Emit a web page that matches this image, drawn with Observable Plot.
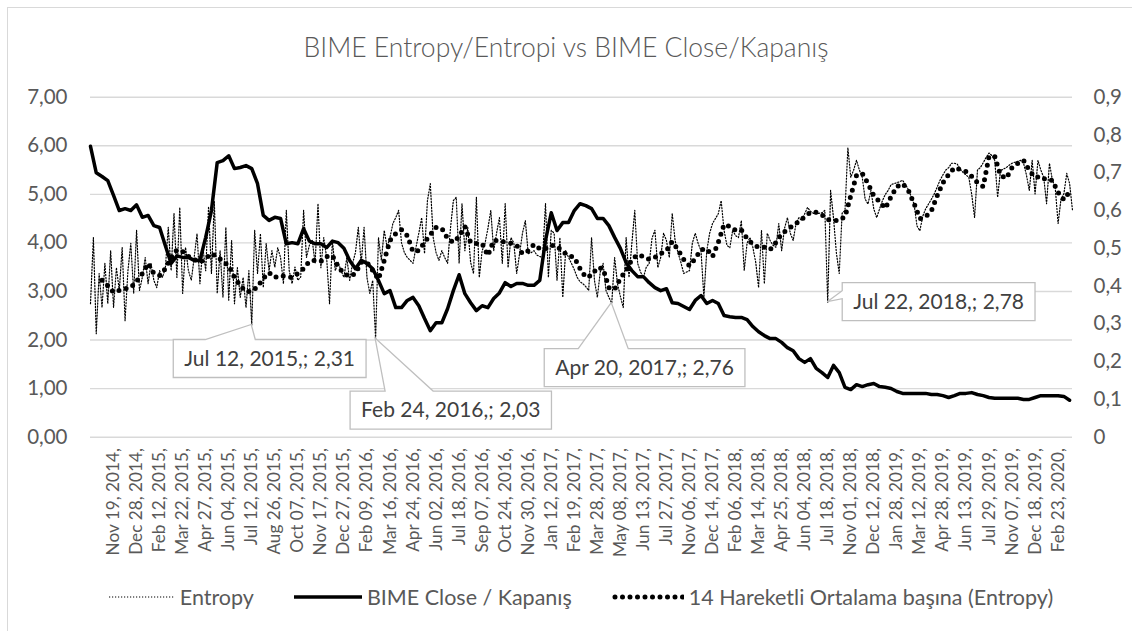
<!DOCTYPE html>
<html><head><meta charset="utf-8">
<script src="https://cdn.jsdelivr.net/npm/d3@7"></script>
<script src="https://cdn.jsdelivr.net/npm/@observablehq/plot@0.6"></script>
<style>
body{margin:0;background:#fff;font-family:Lato,"Open Sans",sans-serif;}
#wrap{position:relative;width:1132px;height:631px;overflow:hidden;background:#fff;}
#frame{position:absolute;left:7px;top:7px;width:1140px;height:640px;border:1px solid #d9d9d9;box-sizing:border-box;pointer-events:none;}
#title{position:relative;height:80px;box-sizing:border-box;padding-top:31px;line-height:32px;text-align:center;font-size:26.5px;font-weight:300;color:#595959;}
#chart{position:relative;height:490px;}
#legend{position:relative;height:61px;display:flex;justify-content:center;align-items:center;gap:40px;padding-left:30px;padding-bottom:8px;box-sizing:border-box;font-size:21.5px;color:#595959;}
.item{display:flex;align-items:center;white-space:nowrap;}
.item svg{margin-right:5px;}
</style></head>
<body>
<div id="wrap">
<div id="frame"></div>
<div id="title">BIME Entropy/Entropi vs BIME Close/Kapanış</div>
<div id="chart"></div>
<div id="legend"></div>
</div>
<script>
// ---------- data ----------
const leftTicks = [0,1,2,3,4,5,6,7];
const rightTicks = [0,0.1,0.2,0.3,0.4,0.5,0.6,0.7,0.8,0.9];
const tickLabels = ["Nov 19, 2014,","Dec 28, 2014,","Feb 12, 2015,","Mar 22, 2015,","Apr 27, 2015,","Jun 04, 2015,","Jul 12, 2015,","Aug 26, 2015,","Oct 07, 2015,","Nov 17, 2015,","Dec 27, 2015,","Feb 09, 2016,","Mar 16, 2016,","Apr 24, 2016,","Jun 02, 2016,","Jul 18, 2016,","Sep 07, 2016,","Oct 24, 2016,","Nov 30, 2016,","Jan 12, 2017,","Feb 19, 2017,","Mar 28, 2017,","May 08, 2017,","Jun 13, 2017,","Jul 27, 2017,","Nov 06, 2017,","Dec 14, 2017,","Feb 06, 2018,","Mar 14, 2018,","Apr 25, 2018,","Jun 04, 2018,","Jul 18, 2018,","Nov 01, 2018,","Dec 12, 2018,","Jan 28, 2019,","Mar 12, 2019,","Apr 28, 2019,","Jun 13, 2019,","Jul 29, 2019,","Nov 07, 2019,","Dec 18, 2019,","Feb 23, 2020,"];
const labelStart = 8, labelEvery = 8;   // category index of first label, interval between labels
// Entropy (left axis), one value per category
const entropy = [
2.75,4.11,2.13,3.37,2.67,3.58,2.75,3.84,2.67,3.49,
3.02,3.91,2.40,3.43,3.99,2.96,4.26,3.02,3.29,3.70,
3.16,3.58,3.23,3.08,3.43,3.29,3.49,4.32,3.43,4.61,
3.29,4.73,2.96,3.91,3.43,3.23,3.70,4.19,3.16,3.91,
3.43,4.75,3.37,4.85,2.96,3.84,2.88,4.32,2.82,4.05,
2.75,3.49,2.88,3.29,2.67,3.43,2.31,4.26,3.37,4.19,
3.08,3.99,3.43,3.84,3.50,3.90,3.70,3.16,4.67,3.43,
3.16,3.50,3.23,3.30,4.67,3.70,3.95,4.05,3.58,4.81,
3.49,4.11,3.70,2.75,4.05,3.43,3.60,3.43,3.29,3.70,
3.23,3.58,3.80,4.32,3.58,4.32,3.29,2.96,3.23,2.03,
4.11,3.64,4.26,3.91,4.11,4.40,4.52,4.67,4.00,3.80,
3.70,3.64,3.58,3.90,4.20,4.52,3.78,4.87,5.22,4.11,
3.80,3.64,3.84,3.70,3.58,4.30,4.87,4.94,3.58,4.81,
3.84,4.32,3.60,3.37,4.94,3.29,3.84,3.99,4.30,4.67,
3.84,4.20,4.52,3.58,4.81,3.49,4.11,4.00,3.37,3.78,
4.20,4.46,3.78,3.80,3.84,3.75,3.72,3.70,4.81,3.29,
4.26,4.20,3.23,4.11,2.88,3.84,3.70,3.58,3.45,3.29,
3.20,3.16,3.10,3.02,4.11,3.23,2.88,3.40,3.58,3.02,
2.88,2.76,3.70,3.16,2.90,2.67,4.11,3.29,4.00,4.67,
3.58,3.40,3.29,3.50,3.58,4.10,4.26,3.49,3.70,4.20,
4.05,3.70,4.61,4.05,3.80,3.60,3.37,3.40,3.43,4.00,
4.20,3.99,3.84,2.88,3.84,4.20,4.40,4.50,4.60,4.87,
4.26,3.95,3.90,4.26,4.15,4.11,4.46,3.43,4.00,4.11,
3.91,3.60,3.08,4.26,3.16,4.20,4.05,3.95,3.91,4.40,
3.84,4.30,4.52,4.20,4.05,4.40,4.52,4.46,4.60,4.73,
4.65,4.61,4.60,4.61,4.62,4.67,2.78,5.08,4.52,3.80,
3.37,4.61,4.67,5.96,5.35,5.50,5.70,5.50,5.35,4.90,
4.80,5.08,4.70,4.52,4.70,4.87,5.00,5.08,5.20,5.22,
5.24,5.26,5.29,5.20,5.10,4.95,4.80,4.35,4.25,4.55,
4.70,4.80,4.90,5.01,5.15,5.29,5.40,5.50,5.55,5.64,
5.64,5.62,5.52,5.45,5.40,5.35,5.00,4.52,5.50,5.55,
5.65,5.76,5.85,5.80,5.70,4.94,5.49,5.52,5.55,5.60,
5.64,5.66,5.68,5.70,5.64,5.40,5.08,5.70,5.01,5.70,
5.50,5.35,4.81,5.64,5.30,5.14,4.40,4.90,5.01,5.43,
5.22,4.67];
const coarseStep = 2; // close and moving average: one value every 2 categories
// BIME Close / Kapanış (right axis)
const close = [
0.770,0.700,0.690,0.679,0.640,0.600,0.605,0.600,0.615,0.582,
0.587,0.560,0.555,0.507,0.460,0.480,0.476,0.476,0.468,0.468,
0.529,0.600,0.727,0.732,0.745,0.711,0.714,0.719,0.711,0.671,
0.587,0.574,0.582,0.579,0.512,0.515,0.512,0.552,0.519,0.512,
0.512,0.502,0.519,0.515,0.500,0.468,0.446,0.468,0.460,0.446,
0.415,0.380,0.388,0.343,0.343,0.362,0.370,0.348,0.314,0.282,
0.303,0.303,0.340,0.388,0.430,0.380,0.356,0.335,0.348,0.343,
0.367,0.382,0.409,0.399,0.407,0.407,0.402,0.402,0.415,0.521,
0.594,0.547,0.568,0.568,0.600,0.618,0.613,0.605,0.579,0.579,
0.560,0.529,0.500,0.462,0.441,0.425,0.425,0.409,0.396,0.388,
0.393,0.356,0.354,0.346,0.338,0.362,0.375,0.354,0.362,0.354,
0.322,0.319,0.317,0.317,0.311,0.293,0.279,0.269,0.261,0.261,
0.251,0.237,0.229,0.208,0.198,0.208,0.182,0.171,0.158,0.190,
0.171,0.132,0.126,0.139,0.134,0.139,0.142,0.134,0.132,0.129,
0.121,0.116,0.116,0.116,0.116,0.116,0.113,0.113,0.110,0.105,
0.110,0.116,0.116,0.118,0.113,0.110,0.105,0.103,0.103,0.103,
0.103,0.103,0.100,0.100,0.105,0.110,0.110,0.110,0.110,0.108,
0.098];
// 14 Hareketli Ortalama (Entropy) (left axis)
const movingAvg = [
null,null,
3.23,3.12,2.98,3.02,3.06,3.08,3.21,3.37,3.58,3.37,
3.33,3.47,3.70,3.86,3.82,3.72,3.66,3.60,3.68,3.78,
3.72,3.62,3.53,3.29,3.12,3.00,3.00,3.10,3.27,3.39,
3.29,3.33,3.31,3.29,3.37,3.47,3.62,3.64,3.62,3.72,
3.74,3.51,3.37,3.31,3.37,3.60,3.60,3.43,3.25,3.64,
4.05,4.19,4.27,4.15,3.82,3.84,4.01,4.17,4.32,4.30,
4.09,4.01,4.13,4.34,4.01,3.99,3.99,3.74,4.05,4.05,
4.01,3.99,3.95,3.78,3.84,3.97,3.88,3.88,3.95,3.93,
3.82,3.74,3.70,3.47,3.29,3.33,3.49,3.47,3.08,3.04,
3.27,3.43,3.66,3.76,3.72,3.66,3.70,3.78,3.84,4.03,
3.86,3.66,3.53,3.68,3.86,3.88,3.72,4.01,4.38,4.34,
4.26,4.27,4.09,3.97,3.91,3.91,3.86,4.01,4.19,4.27,
4.36,4.44,4.54,4.63,4.63,4.58,4.48,4.46,4.46,4.54,
4.97,5.39,5.43,5.22,4.97,4.85,4.71,4.95,5.16,5.22,
5.08,4.81,4.50,4.54,4.66,4.97,5.24,5.41,5.55,5.51,
5.47,5.37,5.24,5.16,5.78,5.78,5.39,5.33,5.55,5.64,
5.70,5.49,5.35,5.37,5.29,5.29,5.04,4.89,5.06];
// data labels on Entropy
const annIndex = [56, 99, 181, 256];
const annDate = ["Jul 12, 2015", "Feb 24, 2016", "Apr 20, 2017", "Jul 22, 2018"];
const annValue = [2.31, 2.03, 2.76, 2.78];
const seriesNames = ["Entropy", "BIME Close / Kapanış", "14 Hareketli Ortalama başına (Entropy)"];

// ---------- styles ----------
const calloutStyle = [
  {bx:-78, by:15, side:"top", w1:-46, w2:4},
  {bx:-25, by:53, side:"top", w1:10, w2:58},
  {bx:-67, by:46, side:"top", w1:-33, w2:17},
  {bx:15, by:-19, side:"left", w1:8, w2:16}
];
const lineStyles = [
  {strokeWidth:1.2, dash:"1.2 1.8", cap:"butt"},
  {strokeWidth:3.5, dash:null, cap:"butt"},
  {strokeWidth:5, dash:"0 7.5", cap:"round"}
];

// ---------- build ----------
const loc = d3.formatLocale({decimal:",", thousands:".", grouping:[3], currency:["",""]});
const fmt2 = loc.format(".2f");
const fmt1 = loc.format(".1f");
const ratio = leftTicks[leftTicks.length-1] / rightTicks[rightTicks.length-1];
const tickIdx = tickLabels.map((_, k) => labelStart + k*labelEvery);
const labelOf = new Map(tickIdx.map((t, k) => [t, tickLabels[k]]));

const entropyData = entropy.map((v, i) => ({i, v}));
const closeData = close.map((v, j) => ({i: j*coarseStep, v: v*ratio}));
const maData = movingAvg.map((v, j) => ({i: j*coarseStep, v})).filter(d => d.v != null);

const chart = Plot.plot({
  width: 1132, height: 490,
  marginTop: 16.7, marginBottom: 133.3, marginLeft: 90, marginRight: 60,
  style: {fontFamily: "Lato, 'Open Sans', sans-serif", fontSize: "20px", color: "#595959", background: "transparent"},
  x: {type: "linear", domain: [0, entropy.length - 1]},
  y: {domain: [leftTicks[0], leftTicks[leftTicks.length-1]]},
  marks: [
    Plot.ruleY(leftTicks, {stroke: "#d9d9d9", strokeWidth: 1.4}),
    Plot.axisY({ticks: leftTicks, tickSize: 0, tickPadding: 23, tickFormat: fmt2, label: null, fontSize: 20.5}),
    Plot.axisY({anchor: "right", ticks: rightTicks.map(r => r*ratio), tickSize: 0, tickPadding: 21,
      tickFormat: d => { const r = Math.round(d/ratio*10)/10; return r === 0 ? "0" : fmt1(r); }, label: null, fontSize: 20.5}),
    Plot.axisX({ticks: tickIdx, tickFormat: d => labelOf.get(d), tickRotate: -90, tickSize: 0, tickPadding: 11, label: null, fontSize: 17.2}),
    Plot.line(entropyData, {x: "i", y: "v", stroke: "#000", strokeWidth: lineStyles[0].strokeWidth, strokeDasharray: lineStyles[0].dash}),
    Plot.line(closeData, {x: "i", y: "v", stroke: "#000", strokeWidth: lineStyles[1].strokeWidth, strokeLinejoin: "round"}),
    Plot.line(maData, {x: "i", y: "v", stroke: "#000", strokeWidth: lineStyles[2].strokeWidth, strokeDasharray: lineStyles[2].dash, strokeLinecap: "round"})
  ]
});
document.getElementById("chart").appendChild(chart);

// callouts (data labels) positioned through the plot's own scales
const sx = chart.scale("x"), sy = chart.scale("y");
const svg = d3.select(chart);
const g = svg.append("g").attr("class", "callouts");
annIndex.forEach((idx, k) => {
  const st = calloutStyle[k];
  const px = sx.apply(idx), py = sy.apply(annValue[k]);
  const txt = `${annDate[k]},; ${fmt2(annValue[k])}`;
  const grp = g.append("g");
  const path = grp.append("path").attr("fill", "#fff").attr("stroke", "#bfbfbf").attr("stroke-width", 1.3);
  const t = grp.append("text").text(txt).attr("font-size", 21).attr("fill", "#404040")
    .attr("font-family", "Lato, 'Open Sans', sans-serif").attr("text-anchor", "middle").attr("dy", "0.35em");
  const tw = t.node().getComputedTextLength();
  const w = tw + 22, h = 38;
  const L = px + st.bx, T = py + st.by, R = L + w, B = T + h;
  let d;
  if (st.side === "top") {
    d = `M${L},${T}L${px+st.w1},${T}L${px},${py}L${px+st.w2},${T}L${R},${T}L${R},${B}L${L},${B}Z`;
  } else {
    d = `M${L},${T}L${R},${T}L${R},${B}L${L},${B}L${L},${T+st.w2}L${px},${py}L${L},${T+st.w1}Z`;
  }
  path.attr("d", d);
  t.attr("x", L + w/2).attr("y", T + h/2);
});

// legend
const leg = d3.select("#legend");
const swW = [66, 68, 72];
seriesNames.forEach((name, k) => {
  const it = leg.append("span").attr("class", "item");
  const s = it.append("svg").attr("width", swW[k]).attr("height", 12);
  s.append("line").attr("x1", lineStyles[k].cap === "round" ? 3 : 0).attr("x2", swW[k]).attr("y1", 6).attr("y2", 6)
    .attr("stroke", "#000").attr("stroke-width", lineStyles[k].strokeWidth)
    .attr("stroke-dasharray", lineStyles[k].dash).attr("stroke-linecap", lineStyles[k].cap);
  it.append("span").text(name);
});
</script>
</body></html>
